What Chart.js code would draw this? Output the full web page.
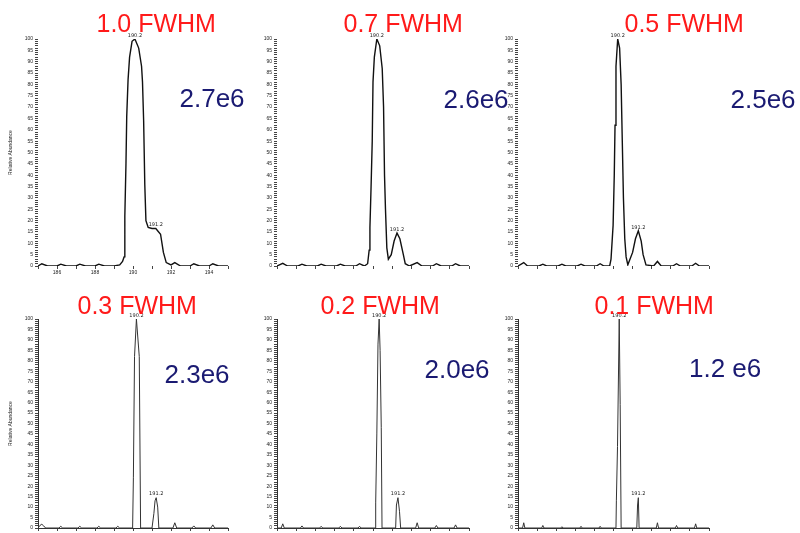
<!DOCTYPE html>
<html>
<head>
<meta charset="utf-8">
<script src="https://cdn.jsdelivr.net/npm/chart.js@4.4.1/dist/chart.umd.min.js"></script>
<style>
  body { margin: 0; background: #fff; }
  #page { position: relative; width: 800px; height: 533px; overflow: hidden; background: #fff; }
  canvas { position: absolute; }
  .res { position: absolute; color: #ff1a1a; font-family: "Liberation Sans", Arial, sans-serif; font-size: 25px; line-height: 1; white-space: nowrap; z-index: 2; }
  .amt { position: absolute; color: #1a1a72; font-family: "Liberation Sans", Arial, sans-serif; font-size: 26px; line-height: 1; white-space: nowrap; z-index: 2; }
</style>
</head>
<body>
<div id="page"></div>
<script>
// panel captions
var resLabels = ["1.0 FWHM", "0.7 FWHM", "0.5 FWHM", "0.3 FWHM", "0.2 FWHM", "0.1 FWHM"];
var intensityLabels = ["2.7e6", "2.6e6", "2.5e6", "2.3e6", "2.0e6", "1.2 e6"];
var peakNames = ["190.2", "191.2"];

// profile spectra, [m/z, relative abundance]
var fwhm10 = [[185.0,0],[185.2,1],[185.5,0],[186.0,0],[186.2,0.8],[186.5,0],[187.0,0],[187.2,0.8],[187.5,0],
  [188.0,0],[188.2,0.8],[188.5,0],[189.0,0],[189.3,0.5],[189.45,2],[189.53,4],[189.57,22],[189.63,45],[189.67,66],
  [189.74,82],[189.82,92],[189.95,99],[190.1,100],[190.3,96],[190.45,88],[190.5,81],[190.56,64],[190.62,36],
  [190.68,20],[190.8,17],[191.0,16.5],[191.2,16.5],[191.45,14],[191.6,6],[191.75,1.5],[192.0,0.5],[192.2,1.5],
  [192.5,0],[193.0,0],[193.2,1],[193.5,0],[194.0,0],[194.2,1],[194.5,0],[195.0,0]];
var fwhm07 = [[184.9,0],[185.2,1.2],[185.45,0],[186.0,0],[186.2,0.8],[186.45,0],[187.0,0],[187.2,0.8],[187.45,0],
  [188.0,0],[188.2,0.8],[188.45,0],[189.0,0],[189.2,1],[189.45,0],[189.62,1],[189.7,7],[189.74,17],[189.8,35],
  [189.86,55],[189.9,81],[189.97,92],[190.1,100],[190.25,97],[190.38,87],[190.45,70],[190.5,40],[190.55,25],
  [190.62,8],[190.7,3],[190.85,5],[191.0,11],[191.15,14.5],[191.3,12],[191.48,5],[191.58,1],[191.8,0],
  [192.2,1.5],[192.45,0],[193.0,0],[193.2,1],[193.45,0],[194.0,0],[194.2,1],[194.45,0],[194.9,0]];
var fwhm05 = [[184.9,0],[185.2,1.5],[185.4,0],[186.0,0],[186.2,0.8],[186.4,0],[187.0,0],[187.2,0.8],[187.4,0],
  [188.0,0],[188.2,0.8],[188.4,0],[189.0,0],[189.2,1],[189.4,0],[189.7,0],[189.77,3],[189.88,18],[189.94,40],
  [189.98,62],[190.03,88],[190.12,100],[190.22,96],[190.3,80],[190.36,55],[190.42,30],[190.49,12],[190.56,4],
  [190.65,0.5],[190.9,6],[191.05,12],[191.2,15.5],[191.35,11],[191.45,5],[191.6,0.5],[192.0,0],[192.2,2],
  [192.4,0],[193.0,0],[193.2,1],[193.4,0],[194.0,0],[194.2,1.2],[194.4,0],[194.9,0]];
var fwhm03 = [[185.0,0],[185.1,1.2],[185.2,1.8],[185.3,1],[185.4,0],[186.1,0],[186.2,0.8],[186.3,0],
  [187.1,0],[187.2,0.8],[187.3,0],[188.1,0],[188.2,0.8],[188.3,0],[189.1,0],[189.2,0.8],[189.3,0],
  [189.98,0],[190.02,24],[190.08,82],[190.18,100],[190.33,82],[190.4,0],
  [191.0,0],[191.1,7],[191.16,13],[191.22,14.5],[191.3,10],[191.36,0],
  [192.1,0],[192.2,2.5],[192.3,0],[193.1,0],[193.2,1],[193.3,0],[194.1,0],[194.2,1.5],[194.3,0],[195.0,0]];
var fwhm02 = [[184.9,0],[185.12,0],[185.2,2],[185.28,0],[186.12,0],[186.2,1],[186.28,0],[187.12,0],[187.2,0.8],
  [187.28,0],[188.12,0],[188.2,0.8],[188.28,0],[189.12,0],[189.2,0.8],[189.28,0],
  [190.02,0],[190.04,12],[190.1,45],[190.16,88],[190.22,100],[190.27,85],[190.33,48],[190.37,0],
  [191.08,0],[191.12,11],[191.2,14.5],[191.28,8],[191.34,0],
  [192.12,0],[192.2,2.5],[192.28,0],[193.12,0],[193.2,1.2],[193.28,0],[194.12,0],[194.2,1.5],[194.28,0],[194.9,0]];
var fwhm01 = [[184.9,0],[185.14,0],[185.2,2.5],[185.26,0],[186.14,0],[186.2,1.2],[186.26,0],[187.14,0],[187.2,0.6],
  [187.26,0],[188.14,0],[188.2,0.8],[188.26,0],[189.14,0],[189.2,0.8],[189.26,0],
  [190.03,0],[190.05,13],[190.11,39],[190.2,100],[190.25,59],[190.3,0],
  [191.12,0],[191.16,11],[191.2,14.5],[191.24,0],
  [192.14,0],[192.2,2.5],[192.26,0],[193.14,0],[193.2,1.2],[193.26,0],[194.14,0],[194.2,2],[194.26,0],[194.9,0]];

// where the two named peaks sit, [m/z, abundance]
var peakPos10 = [[190.1,100],[191.2,16.5]];
var peakPos07 = [[190.1,100],[191.15,14.5]];
var peakPos05 = [[190.12,100],[191.2,15.5]];
var peakPos03 = [[190.18,100],[191.22,14.5]];
var peakPos02 = [[190.22,100],[191.2,14.5]];
var peakPos01 = [[190.2,100],[191.2,14.5]];

var xRanges = [[185.0,195.0],[184.9,194.9],[184.9,194.9],[185.0,195.0],[184.9,194.9],[184.9,194.9]];

var panels = [
  { data: fwhm10, peaks: peakPos10, left: 38, right: 228, top: 39, base: 266, row: 0, yTitle: true },
  { data: fwhm07, peaks: peakPos07, left: 277, right: 469, top: 39, base: 266, row: 0 },
  { data: fwhm05, peaks: peakPos05, left: 518, right: 709, top: 39, base: 266, row: 0 },
  { data: fwhm03, peaks: peakPos03, left: 38, right: 228, top: 319, base: 529, row: 1, yTitle: true },
  { data: fwhm02, peaks: peakPos02, left: 277, right: 469, top: 319, base: 529, row: 1 },
  { data: fwhm01, peaks: peakPos01, left: 518, right: 709, top: 319, base: 529, row: 1 }
];
var captionPos = [[156,11],[403,11],[684,11],[137,293],[380,293],[654,293]];
var amountPos = [[212,85],[476,86],[763,86],[197,361],[457,356],[725,355]];

var page = document.getElementById("page");

var peakLabelPlugin = {
  id: "peakLabels",
  afterDatasetsDraw: function(chart) {
    var p = chart.options.plugins.peakLabels;
    var ctx = chart.ctx;
    ctx.save();
    ctx.fillStyle = "#222";
    ctx.font = "5px 'DejaVu Sans', sans-serif";
    ctx.textAlign = "center";
    ctx.textBaseline = "bottom";
    p.points.forEach(function(pt, i) {
      var x = chart.scales.x.getPixelForValue(pt[0]);
      var y = chart.scales.y.getPixelForValue(pt[1]);
      ctx.fillText(peakNames[i], x, y - 1);
    });
    ctx.restore();
  }
};

function makePanel(p, i) {
  var yW = 30, padTop = 10, padRight = 8;
  var xH = p.row === 0 ? 12 : 4;
  var c = document.createElement("canvas");
  var w = p.right - p.left + yW + padRight;
  var h = p.base - p.top + padTop + xH;
  c.width = w; c.height = h;
  c.style.left = (p.left - yW) + "px";
  c.style.top = (p.top - padTop) + "px";
  page.appendChild(c);

  new Chart(c, {
    type: "scatter",
    data: {
      datasets: [{
        data: p.data.map(function(d) { return { x: d[0], y: d[1] }; }),
        showLine: true,
        borderColor: p.row === 0 ? "#111" : "#333",
        borderWidth: p.row === 0 ? 1.4 : 1,
        pointRadius: 0,
        tension: 0
      }]
    },
    options: {
      responsive: false,
      animation: false,
      layout: { padding: { top: padTop, right: padRight, left: 0, bottom: 0 } },
      plugins: {
        legend: { display: false },
        tooltip: { enabled: false },
        peakLabels: { points: p.peaks }
      },
      scales: {
        x: {
          type: "linear",
          min: xRanges[i][0],
          max: xRanges[i][1],
          afterFit: function(s) { s.height = xH; },
          border: { display: p.row === 1, color: "#333", width: 1 },
          grid: { drawOnChartArea: false, tickLength: 3, tickColor: "#444" },
          ticks: {
            stepSize: 1,
            includeBounds: false,
            autoSkip: false,
            maxRotation: 0,
            padding: 1,
            display: p.row === 0,
            color: "#222",
            font: { size: 5 },
            callback: function(v) { return v % 2 === 0 ? v.toFixed(0) : ""; }
          }
        },
        y: {
          min: 0,
          max: 100,
          afterFit: function(s) { s.width = yW; },
          border: { display: p.row === 1, color: "#333", width: 1 },
          grid: { drawOnChartArea: false, tickLength: 3, tickColor: "#444" },
          title: {
            display: !!p.yTitle,
            text: "Relative Abundance",
            color: "#222",
            font: { size: 5 },
            padding: { top: 0, bottom: 0 }
          },
          ticks: {
            stepSize: 1,
            autoSkip: false,
            padding: 2,
            color: "#222",
            font: { size: 5 },
            callback: function(v) { return v % 5 === 0 ? String(v) : ""; }
          }
        }
      }
    },
    plugins: [peakLabelPlugin]
  });
}

panels.forEach(makePanel);

resLabels.forEach(function(t, i) {
  var d = document.createElement("div");
  d.className = "res";
  d.textContent = t;
  page.appendChild(d);
  d.style.left = (captionPos[i][0] - d.offsetWidth / 2) + "px";
  d.style.top = captionPos[i][1] + "px";
});
intensityLabels.forEach(function(t, i) {
  var d = document.createElement("div");
  d.className = "amt";
  d.textContent = t;
  page.appendChild(d);
  d.style.left = (amountPos[i][0] - d.offsetWidth / 2) + "px";
  d.style.top = amountPos[i][1] + "px";
});
</script>
</body>
</html>
